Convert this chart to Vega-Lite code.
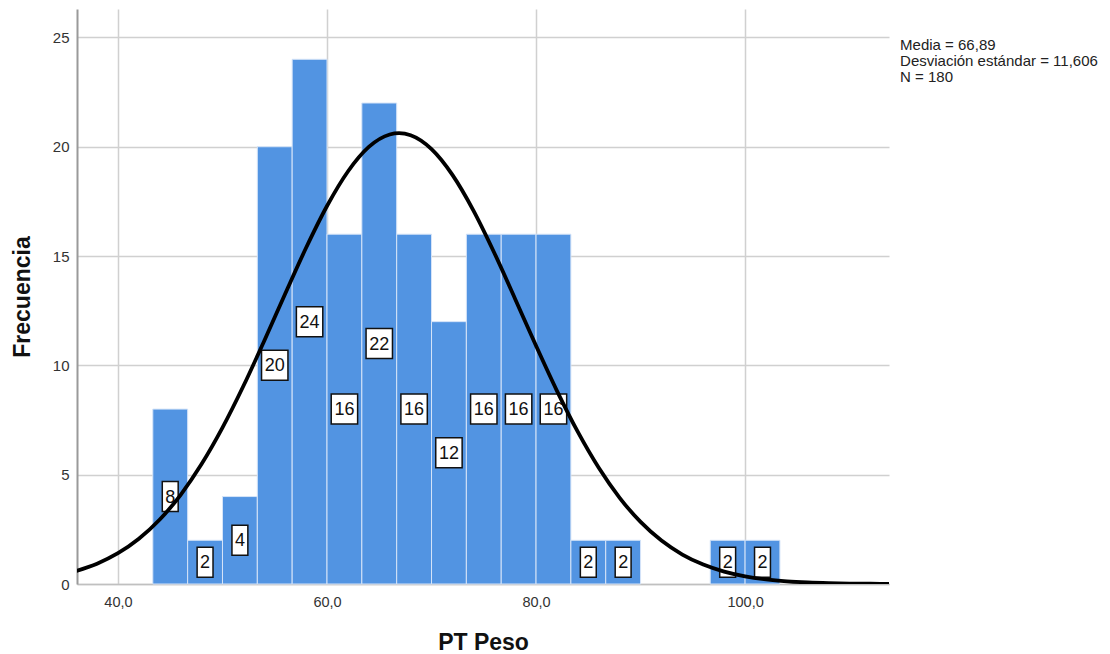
{
  "$schema": "https://vega.github.io/schema/vega-lite/v6.json",
  "width": 812,
  "height": 575,
  "autosize": "none",
  "padding": {"left": 77, "top": 9, "right": 221, "bottom": 70},
  "background": "white",
  "config": {
    "view": {"stroke": null},
    "font": "Liberation Sans",
    "axis": {
      "labelFont": "Liberation Sans",
      "titleFont": "Liberation Sans",
      "labelFontSize": 14.5,
      "labelColor": "#333333",
      "titleFontSize": 23,
      "titleFontWeight": "bold",
      "titleColor": "#111111",
      "gridColor": "#d0d0d0",
      "gridWidth": 1.5,
      "ticks": false
    }
  },
  "datasets": {
    "bins": [
      {"lo": 43.333, "hi": 46.667, "count": 8},
      {"lo": 46.667, "hi": 50.0, "count": 2},
      {"lo": 50.0, "hi": 53.333, "count": 4},
      {"lo": 53.333, "hi": 56.667, "count": 20},
      {"lo": 56.667, "hi": 60.0, "count": 24},
      {"lo": 60.0, "hi": 63.333, "count": 16},
      {"lo": 63.333, "hi": 66.667, "count": 22},
      {"lo": 66.667, "hi": 70.0, "count": 16},
      {"lo": 70.0, "hi": 73.333, "count": 12},
      {"lo": 73.333, "hi": 76.667, "count": 16},
      {"lo": 76.667, "hi": 80.0, "count": 16},
      {"lo": 80.0, "hi": 83.333, "count": 16},
      {"lo": 83.333, "hi": 86.667, "count": 2},
      {"lo": 86.667, "hi": 90.0, "count": 2},
      {"lo": 96.667, "hi": 100.0, "count": 2},
      {"lo": 100.0, "hi": 103.333, "count": 2}
    ],
    "curve": [
      {"peso": 36, "freq": 0.597},
      {"peso": 38, "freq": 0.931},
      {"peso": 40, "freq": 1.408},
      {"peso": 42, "freq": 2.068},
      {"peso": 44, "freq": 2.949},
      {"peso": 46, "freq": 4.081},
      {"peso": 48, "freq": 5.485},
      {"peso": 50, "freq": 7.151},
      {"peso": 52, "freq": 9.054},
      {"peso": 54, "freq": 11.129},
      {"peso": 56, "freq": 13.277},
      {"peso": 58, "freq": 15.378},
      {"peso": 60, "freq": 17.288},
      {"peso": 62, "freq": 18.867},
      {"peso": 64, "freq": 19.991},
      {"peso": 66, "freq": 20.559},
      {"peso": 66.89, "freq": 20.62},
      {"peso": 68, "freq": 20.526},
      {"peso": 70, "freq": 19.892},
      {"peso": 72, "freq": 18.715},
      {"peso": 74, "freq": 17.092},
      {"peso": 76, "freq": 15.154},
      {"peso": 78, "freq": 13.04},
      {"peso": 80, "freq": 10.896},
      {"peso": 82, "freq": 8.836},
      {"peso": 84, "freq": 6.955},
      {"peso": 86, "freq": 5.316},
      {"peso": 88, "freq": 3.943},
      {"peso": 90, "freq": 2.839},
      {"peso": 92, "freq": 1.986},
      {"peso": 94, "freq": 1.347},
      {"peso": 96, "freq": 0.888},
      {"peso": 98, "freq": 0.567},
      {"peso": 100, "freq": 0.352},
      {"peso": 102, "freq": 0.212},
      {"peso": 104, "freq": 0.124},
      {"peso": 106, "freq": 0.071},
      {"peso": 108, "freq": 0.039},
      {"peso": 110, "freq": 0.021},
      {"peso": 112, "freq": 0.011},
      {"peso": 113.77, "freq": 0.006}
    ],
    "stats": [
      {"line": "Media = 66,89", "px": 114.83, "py": 24.65},
      {"line": "Desviación estándar = 11,606", "px": 114.83, "py": 23.92},
      {"line": "N = 180", "px": 114.83, "py": 23.18}
    ]
  },
  "layer": [
    {
      "data": {"name": "bins"},
      "mark": {"type": "rect", "color": "#5294e2", "stroke": "#d6e4f8", "strokeWidth": 1},
      "encoding": {
        "x": {
          "field": "lo", "type": "quantitative",
          "scale": {"domain": [36.08, 113.77], "nice": false, "zero": false},
          "axis": {
            "title": "PT Peso",
            "values": [40, 60, 80, 100],
            "labelExpr": "replace(format(datum.value, '.1f'), '.', ',')",
            "labelPadding": 11,
            "titlePadding": 23,
            "domainColor": "#c0c0c0",
            "domainWidth": 1.5
          }
        },
        "x2": {"field": "hi"},
        "y": {
          "field": "count", "type": "quantitative",
          "scale": {"domain": [0, 26.3], "nice": false},
          "axis": {
            "title": "Frecuencia",
            "values": [0, 5, 10, 15, 20, 25],
            "labelPadding": 8,
            "labelFontSize": 15,
            "labelBaseline": "middle",
            "titlePadding": 18,
            "domainColor": "#9a9a9a",
            "domainWidth": 2
          }
        },
        "y2": {"datum": 0}
      }
    },
    {
      "data": {"name": "bins"},
      "transform": [
        {"filter": "datum.count < 10"},
        {"calculate": "(datum.lo + datum.hi) / 2", "as": "mid"},
        {"calculate": "datum.count / 2", "as": "half"}
      ],
      "mark": {
        "type": "point", "filled": true, "fill": "white", "stroke": "#111111", "strokeWidth": 1.5,
        "opacity": 1, "size": 900,
        "shape": "M-0.53,-1L0.53,-1L0.53,1L-0.53,1Z"
      },
      "encoding": {
        "x": {"field": "mid", "type": "quantitative"},
        "y": {"field": "half", "type": "quantitative"}
      }
    },
    {
      "data": {"name": "bins"},
      "transform": [
        {"filter": "datum.count >= 10"},
        {"calculate": "(datum.lo + datum.hi) / 2", "as": "mid"},
        {"calculate": "datum.count / 2", "as": "half"}
      ],
      "mark": {
        "type": "point", "filled": true, "fill": "white", "stroke": "#111111", "strokeWidth": 1.5,
        "opacity": 1, "size": 900,
        "shape": "M-0.88,-1L0.88,-1L0.88,1L-0.88,1Z"
      },
      "encoding": {
        "x": {"field": "mid", "type": "quantitative"},
        "y": {"field": "half", "type": "quantitative"}
      }
    },
    {
      "data": {"name": "bins"},
      "transform": [
        {"calculate": "(datum.lo + datum.hi) / 2", "as": "mid"},
        {"calculate": "datum.count / 2", "as": "half"}
      ],
      "mark": {"type": "text", "font": "Liberation Sans", "fontSize": 18, "color": "#111111", "baseline": "middle", "align": "center", "dy": 1},
      "encoding": {
        "x": {"field": "mid", "type": "quantitative"},
        "y": {"field": "half", "type": "quantitative"},
        "text": {"field": "count", "type": "quantitative"}
      }
    },
    {
      "data": {"name": "curve"},
      "mark": {"type": "line", "color": "black", "strokeWidth": 3.8, "interpolate": "monotone", "clip": true},
      "encoding": {
        "x": {"field": "peso", "type": "quantitative"},
        "y": {"field": "freq", "type": "quantitative"}
      }
    },
    {
      "data": {"name": "stats"},
      "mark": {"type": "text", "font": "Liberation Sans", "fontSize": 15, "color": "#222222", "align": "left", "baseline": "middle", "clip": false},
      "encoding": {
        "x": {"field": "px", "type": "quantitative"},
        "y": {"field": "py", "type": "quantitative"},
        "text": {"field": "line", "type": "nominal"}
      }
    }
  ]
}
